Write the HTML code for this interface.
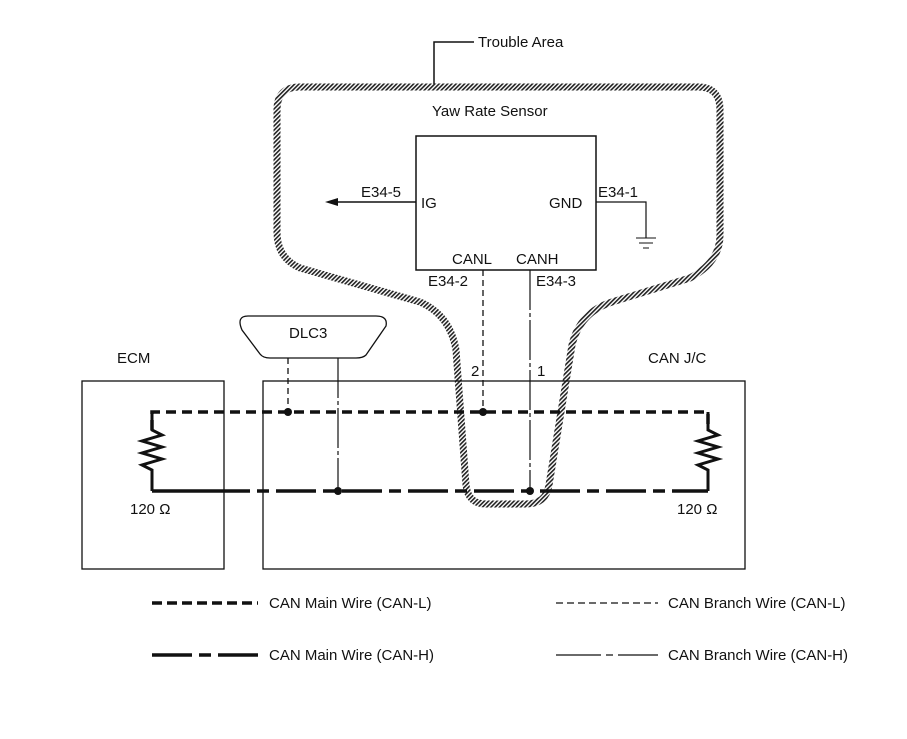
<!DOCTYPE html>
<html><head><style>body{margin:0;background:#fff}svg{display:block}text{font-family:"Liberation Sans",sans-serif;fill:#111}</style></head><body>
<svg width="907" height="739" viewBox="0 0 907 739" xmlns="http://www.w3.org/2000/svg">
<defs><pattern id="h" width="3" height="3" patternUnits="userSpaceOnUse" patternTransform="rotate(45)"><rect width="3" height="3" fill="#fff"/><rect width="1.6" height="3" fill="#222"/></pattern></defs>
<rect width="907" height="739" fill="#fff"/>
<path d="M300 87 L698 87 Q720 87 720 110 L720 235 Q720 262 690 278 L612 302 Q580 312 572 345 L549 485 Q546 504 526 504 L486 504 Q468 504 466 485 L456 350 Q450 315 420 302 L300 268 Q277 258 277 232 L277 110 Q277 87 300 87 Z" fill="none" stroke="url(#h)" stroke-width="7"/>
<g fill="none" stroke="#111">
<polyline points="434,84 434,42 474,42" stroke-width="1.5"/>
<rect x="416" y="136" width="180" height="134" stroke-width="1.5"/>
<line x1="416" y1="202" x2="335" y2="202" stroke-width="1.5"/>
<polyline points="596,202 646,202 646,238" stroke-width="1.2"/>
<line x1="636" y1="238" x2="656" y2="238"/><line x1="639" y1="243" x2="653" y2="243"/><line x1="643" y1="248" x2="649" y2="248"/>
<rect x="82" y="381" width="142" height="188" stroke-width="1.3"/>
<rect x="263" y="381" width="482" height="188" stroke-width="1.3"/>
<line x1="483" y1="270" x2="483" y2="412" stroke-width="1.3" stroke-dasharray="6,4"/>
<line x1="530" y1="270" x2="530" y2="491" stroke-width="1.2" stroke-dasharray="40,3,4,3"/>
<line x1="288" y1="358" x2="288" y2="412" stroke-width="1.3" stroke-dasharray="6,4"/>
<line x1="338" y1="358" x2="338" y2="491" stroke-width="1.2" stroke-dasharray="40,3,4,3"/>
<polyline points="152,430 152,412 708,412 708,430" stroke-width="3.5" stroke-dasharray="10,6"/>
<line x1="152" y1="491" x2="210" y2="491" stroke-width="3.5"/>
<line x1="210" y1="491" x2="708" y2="491" stroke-width="3.5" stroke-dasharray="40,7,12,7"/>
<polyline points="152,412 152,430 162,435 142,441 162,447 142,453 162,459 142,465 152,470 152,491" stroke-width="3" stroke-linejoin="miter"/>
<polyline points="708,412 708,430 718,435 698,441 718,447 698,453 718,459 698,465 708,470 708,491" stroke-width="3"/>
<path d="M248 316 L376 316 Q388 316 386 326 L366 355 Q363 358 356 358 L270 358 Q263 358 260 354 L242 330 Q236 316 248 316 Z" stroke-width="1.3"/>
<line x1="152" y1="603" x2="258" y2="603" stroke-width="3.5" stroke-dasharray="10,5"/>
<line x1="152" y1="655" x2="258" y2="655" stroke-width="3.5" stroke-dasharray="40,7,12,7"/>
<line x1="556" y1="603" x2="658" y2="603" stroke-width="1.2" stroke-dasharray="7,4"/>
<line x1="556" y1="655" x2="658" y2="655" stroke-width="1.2" stroke-dasharray="45,5,7,5"/>
</g>
<polygon points="325,202 338,198 338,206" fill="#111"/>
<g fill="#111"><circle cx="288" cy="412" r="4"/><circle cx="483" cy="412" r="4"/><circle cx="338" cy="491" r="4"/><circle cx="530" cy="491" r="4"/></g>
<g font-size="15">
<text x="478" y="47">Trouble Area</text>
<text x="432" y="116">Yaw Rate Sensor</text>
<text x="361" y="197">E34-5</text>
<text x="421" y="208">IG</text>
<text x="549" y="208">GND</text>
<text x="598" y="197">E34-1</text>
<text x="452" y="264">CANL</text>
<text x="516" y="264">CANH</text>
<text x="428" y="286">E34-2</text>
<text x="536" y="286">E34-3</text>
<text x="289" y="338">DLC3</text>
<text x="117" y="363">ECM</text>
<text x="648" y="363">CAN J/C</text>
<text x="471" y="376">2</text>
<text x="537" y="376">1</text>
<text x="130" y="514">120 Ω</text>
<text x="677" y="514">120 Ω</text>
<text x="269" y="608">CAN Main Wire (CAN-L)</text>
<text x="269" y="660">CAN Main Wire (CAN-H)</text>
<text x="668" y="608">CAN Branch Wire (CAN-L)</text>
<text x="668" y="660">CAN Branch Wire (CAN-H)</text>
</g>
</svg>
</body></html>
